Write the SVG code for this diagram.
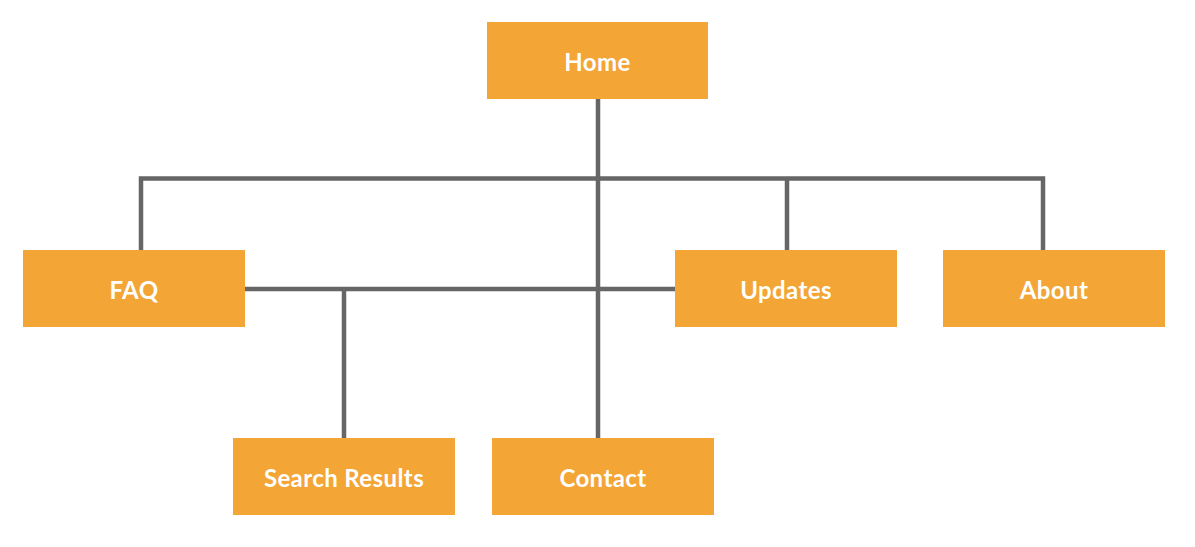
<svg xmlns="http://www.w3.org/2000/svg" width="1195" height="547" viewBox="0 0 1195 547">
<style>
.box{fill:#F3A536}
.lbl{fill:#fff;font-family:Lato,"Open Sans",sans-serif;font-weight:bold;font-size:24px;letter-spacing:0.4px;text-anchor:middle}
.conn{stroke:#666;stroke-width:4.5;fill:none}
</style>
<rect width="1195" height="547" fill="#fff"/>
<g id="connectors" class="conn">
<line x1="598" y1="99" x2="598" y2="438"/>
<polyline points="141,250 141,178.5 1043,178.5 1043,250"/>
<line x1="787" y1="178.5" x2="787" y2="250"/>
<line x1="245" y1="289" x2="675" y2="289"/>
<line x1="344" y1="289" x2="344" y2="438"/>
</g>
<g id="home"><rect class="box" x="487" y="22" width="221" height="77"/><text class="lbl" x="597.5" y="71">Home</text></g>
<g id="faq"><rect class="box" x="23" y="250" width="222" height="77"/><text class="lbl" x="134" y="299">FAQ</text></g>
<g id="updates"><rect class="box" x="675" y="250" width="222" height="77"/><text class="lbl" x="786" y="299">Updates</text></g>
<g id="about"><rect class="box" x="943" y="250" width="222" height="77"/><text class="lbl" x="1054" y="299">About</text></g>
<g id="search-results"><rect class="box" x="233" y="438" width="222" height="77"/><text class="lbl" x="344" y="487">Search Results</text></g>
<g id="contact"><rect class="box" x="492" y="438" width="222" height="77"/><text class="lbl" x="603" y="487">Contact</text></g>
</svg>
